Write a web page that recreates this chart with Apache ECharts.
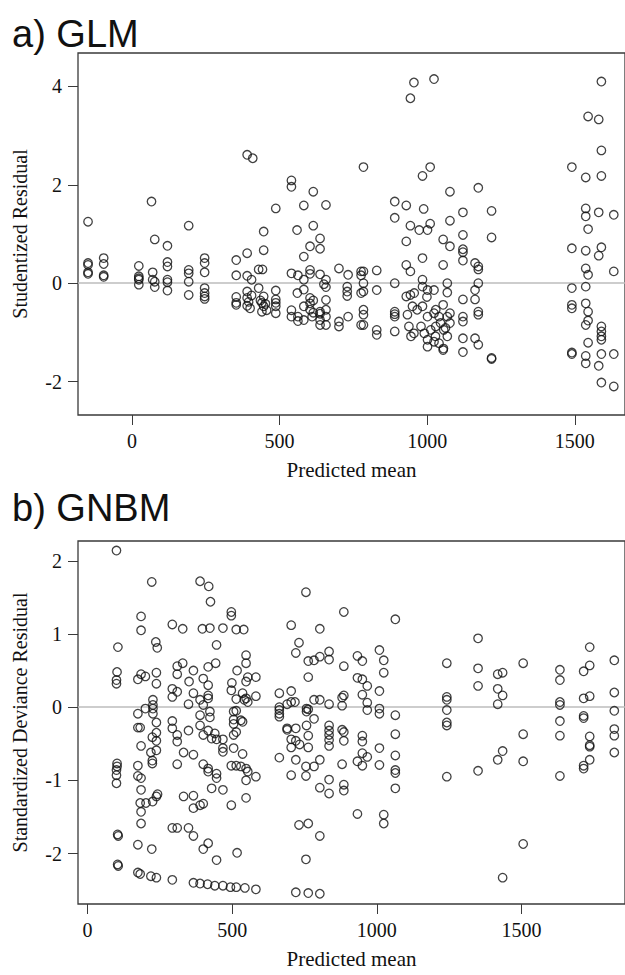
<!DOCTYPE html>
<html>
<head>
<meta charset="utf-8">
<title>Residual plots: GLM and GNBM</title>
<script src="https://cdn.jsdelivr.net/npm/echarts@6/dist/echarts.min.js"></script>
<style>
  html, body { margin: 0; padding: 0; background: #ffffff; }
  #chart { width: 625px; height: 975px; }
</style>
</head>
<body>
<div id="chart"></div>
<script>
// Panel a) GLM: predicted mean vs studentized residual
const glmMean = [
  -149, -149, -149, -149, -149,
  -96, -96, -96, -96,
  23, 23, 23, 23, 23,
  66, 77, 70, 70, 77, 77,
  120, 120, 120, 120, 120, 120,
  192, 192, 192, 192, 192,
  246, 246, 246, 246, 246, 246, 246,
  353, 353, 353, 353, 353,
  390, 409, 390, 390, 405, 390, 405, 390, 395, 390, 400,
  446, 446, 429, 442, 429, 446, 435, 440, 452, 446, 456, 440,
  487, 487, 487, 487, 487, 487,
  540, 540, 540, 540, 540,
  559, 562, 560, 562, 562,
  582, 582, 582, 582, 582, 582,
  603, 603, 603, 603, 603, 603, 610,
  614, 614, 614, 614,
  637, 637, 637, 637, 637, 637, 637,
  657, 657, 650, 657, 657, 657, 657, 657,
  701, 701, 701,
  732, 729, 729, 729, 732,
  784, 776, 784, 776, 784, 784, 776, 784, 784, 776, 784,
  829, 829, 829, 829,
  890, 890, 890, 890, 890, 890, 890,
  929, 929, 929, 943, 929, 943, 956, 950, 966, 933, 938, 955, 945,
  943, 955, 943,
  984, 1010, 988, 973, 1001, 1010, 984, 984, 984, 1001, 1023, 999, 984, 1001, 1023, 1040,
  979, 990, 1001, 1012, 1028, 1040, 1001, 1023, 1055, 1068, 1062, 1077,
  1023,
  1077, 1077, 1054, 1077, 1054, 1068, 1068, 1054, 1029, 1068, 1077, 1045, 1029, 1056, 1054,
  1121, 1121, 1121, 1121, 1121, 1121, 1121, 1121, 1121, 1121,
  1173, 1162, 1173, 1173, 1173, 1162, 1162, 1173, 1173, 1162, 1173,
  1218, 1218, 1218, 1218,
  1490, 1490, 1490, 1490, 1490, 1490, 1490,
  1537, 1545, 1537, 1537, 1545, 1537, 1537, 1545, 1537, 1537, 1545, 1545, 1537, 1545, 1537, 1537,
  1590, 1581, 1590, 1590, 1581, 1590, 1581, 1590, 1590, 1590, 1590, 1590, 1581, 1590,
  1632, 1632, 1632, 1632
];
const glmResid = [
  1.25, 0.41, 0.37, 0.22, 0.19,
  0.51, 0.39, 0.16, 0.13,
  0.35, 0.14, 0.10, 0.07, -0.03,
  1.66, 0.89, 0.22, 0.07, 0.03, -0.08,
  0.76, 0.43, 0.34, 0.07, 0.02, -0.15,
  1.17, 0.27, 0.20, 0.03, -0.24,
  0.51, 0.41, 0.22, -0.10, -0.20, -0.27, -0.32,
  0.47, 0.16, -0.28, -0.40, -0.44,
  2.61, 2.54, 0.61, 0.15, 0.07, -0.17, -0.25, -0.30, -0.38, -0.46, -0.51,
  1.05, 0.67, 0.28, 0.28, -0.10, -0.27, -0.35, -0.40, -0.42, -0.47, -0.55, -0.58,
  1.52, -0.15, -0.33, -0.40, -0.47, -0.61,
  2.09, 1.96, 0.20, -0.55, -0.68,
  1.08, 0.16, -0.20, -0.68, -0.77,
  1.58, 0.54, 0.07, -0.13, -0.47, -0.75,
  0.75, 0.27, 0.19, -0.30, -0.41, -0.54, -0.68,
  1.86, 1.17, -0.35, -0.60,
  0.91, 0.70, 0.18, -0.58, -0.62, -0.75, -0.85,
  1.59, 0.07, -0.02, -0.08, -0.34, -0.54, -0.68, -0.85,
  0.30, -0.78, -0.88,
  0.17, -0.07, -0.17, -0.26, -0.68,
  2.36, 0.24, 0.24, 0.16, 0.00, -0.17, -0.20, -0.54, -0.64, -0.85, -0.85,
  0.26, -0.14, -0.95, -1.05,
  1.66, 1.33, 0.00, -0.58, -0.63, -0.68, -0.98,
  1.58, 0.85, 0.37, 0.24, -0.27, -0.24, -0.20, -0.47, -0.54, -0.64, -0.88, -1.02, -1.08,
  3.76, 4.08, 1.17,
  2.18, 2.36, 1.51, 1.08, 1.08, 1.21, 0.51, 0.07, -0.07, -0.14, -0.14, -0.28, -0.47, -0.68, -0.61, -0.68,
  -0.88, -1.02, -1.15, -0.95, -1.08, -1.22, -1.29, -1.19, -1.33, -1.08, -0.91, -0.81,
  4.15,
  1.86, 1.27, 0.89, 0.75, 0.37, 0.00, -0.19, -0.44, -0.54, -0.68, -0.61, -0.81, -0.88, -0.95, -1.36,
  1.44, 0.98, 0.69, 0.63, 0.46, -0.33, -0.68, -0.78, -1.12, -1.40,
  1.94, 0.41, 0.34, 0.28, 0.00, -0.14, -0.33, -0.58, -0.64, -1.12, -1.25,
  1.47, 0.93, -1.52, -1.54,
  2.36, 0.71, -0.10, -0.44, -0.51, -1.41, -1.44,
  2.15, 3.39, 1.52, 1.36, 1.10, 0.66, 0.30, 0.17, -0.07, -0.41, -0.58, -0.76, -0.85, -1.21, -1.48, -1.63,
  4.10, 3.33, 2.70, 2.18, 1.44, 0.73, 0.56, -0.88, -0.98, -1.08, -1.15, -1.44, -1.68, -2.02,
  1.39, 0.24, -1.44, -2.10
];

// Panel b) GNBM: predicted mean vs standardized deviance residual
const gnbmMean = [
  100, 105, 102, 100, 100, 102, 102, 100, 100, 100, 104, 106, 104, 106,
  185, 185, 174, 185, 174, 174, 182, 185, 174, 174, 185, 185, 182, 185, 185, 174, 174, 182,
  222, 236, 241, 200, 238, 238, 226, 226, 226, 200, 226, 238, 238, 224, 238, 238, 219, 224, 224,
  202, 225, 238, 242, 222, 219, 238,
  293, 329, 329, 310, 310, 293, 310, 293, 293, 293, 310, 310, 310, 293, 310, 293,
  366, 351, 366, 349, 349, 332, 366, 332, 366, 366, 349, 366, 366,
  389, 419, 425, 397, 423, 446, 400, 417, 417, 443, 389, 417, 417, 400, 423, 423, 389, 389,
  400, 417, 429, 440, 446, 400, 417, 417, 429, 389, 400, 417, 400, 446, 389, 415, 440,
  468, 468, 468, 468, 446, 446, 468, 468,
  497, 497, 514, 540, 548, 548, 517, 554, 582, 548, 499, 497, 536, 514, 542, 554, 548, 582,
  505, 514, 505, 505, 536, 530, 514, 505, 505, 536, 497, 514, 530, 548, 554, 582, 548, 548,
  497, 517, 494, 514, 544, 582,
  755, 886, 1064, 704, 803, 731, 720, 763, 783, 803, 835, 835, 763, 886, 933, 950, 933, 950, 967,
  1009, 1024, 1024,
  663, 704, 690, 704, 717, 663, 663, 663, 663,
  757, 757, 763, 783, 803, 783, 835, 886, 880, 880,
  950, 967, 967, 1009, 1009, 1009, 1064,
  690, 690, 720, 704, 720, 733, 704, 757, 763, 763,
  835, 835, 835, 835, 835,
  880, 886, 886, 950, 950, 933, 950, 967, 950,
  1009, 1009, 1064, 1064, 1064, 1064, 1064,
  663, 720, 704, 755, 755, 783, 803, 803, 835, 835,
  880, 886, 886, 933, 1024, 1024, 731, 763, 803, 755, 720, 763, 803,
  1242, 1242, 1242, 1242, 1242, 1242, 1242,
  1350, 1350, 1350, 1350,
  1418, 1435, 1418, 1435, 1418, 1435, 1418, 1435,
  1506, 1506, 1506, 1506,
  1633, 1633, 1633, 1633, 1633, 1633, 1633,
  1715, 1736, 1736, 1715, 1736, 1715, 1715, 1736, 1736, 1736, 1736, 1715, 1715,
  1821, 1821, 1821, 1821, 1821, 1821
];
const gnbmResid = [
  2.14, 0.82, 0.48, 0.37, 0.32, -0.77, -0.81, -0.86, -0.93, -1.04, -1.74, -1.76, -2.15, -2.17,
  1.24, 1.05, 0.38, 0.45, -0.09, -0.28, -0.28, -0.53, -0.80, -0.94, -0.97, -1.13, -1.31, -1.43, -1.59, -1.88, -2.26, -2.28,
  1.71, 0.89, 0.81, 0.42, 0.47, 0.32, 0.10, 0.03, -0.02, -0.02, -0.09, -0.21, -0.35, -0.41, -0.46, -0.59, -0.62, -0.73, -0.77,
  -1.31, -1.29, -1.22, -1.19, -1.94, -2.31, -2.33,
  1.13, 1.07, 0.60, 0.56, 0.45, 0.25, 0.21, 0.14, -0.19, -0.29, -0.38, -0.47, -0.78, -1.65, -1.65, -2.36,
  0.50, 0.35, 0.19, 0.04, -0.32, -0.62, -0.65, -1.22, -1.21, -1.38, -1.65, -1.76, -2.40,
  1.72, 1.65, 1.44, 1.07, 1.08, 0.85, 0.39, 0.30, 0.55, 0.60, 0.10, 0.16, 0.12, 0.03, -0.06, -0.14, -0.11, -0.25,
  -0.38, -0.32, -0.43, -0.36, -0.44, -0.78, -0.84, -0.88, -1.11, -1.34, -1.32, -1.86, -1.94, -2.09, -2.41, -2.42, -2.44,
  1.08, -0.44, -0.56, -0.61, -0.91, -0.97, -1.13, -2.44,
  1.30, 1.25, 1.06, 1.06, 0.71, 0.60, 0.50, 0.41, 0.41, 0.35, 0.33, 0.23, 0.19, 0.11, 0.10, 0.07, 0.12, 0.15,
  -0.06, -0.05, -0.17, -0.23, -0.20, -0.18, -0.34, -0.38, -0.56, -0.64, -0.80, -0.80, -0.81, -0.84, -0.88, -0.95, -1.00, -1.24,
  -1.34, -1.99, -2.46, -2.46, -2.47, -2.49,
  1.57, 1.30, 1.20, 1.12, 1.07, 0.88, 0.74, 0.63, 0.64, 0.69, 0.76, 0.65, 0.41, 0.56, 0.70, 0.63, 0.40, 0.38, 0.29,
  0.78, 0.64, 0.47,
  0.19, 0.22, 0.04, 0.07, 0.07, 0.00, -0.04, -0.09, -0.13,
  -0.02, -0.06, -0.03, 0.10, 0.10, -0.16, 0.04, 0.16, 0.13, 0.02,
  0.17, 0.06, -0.04, 0.22, -0.02, -0.09, -0.11,
  -0.29, -0.31, -0.29, -0.44, -0.46, -0.51, -0.55, -0.25, -0.39, -0.55,
  -0.25, -0.32, -0.38, -0.45, -0.53,
  -0.31, -0.34, -0.46, -0.39, -0.47, -0.74, -0.63, -0.68, -0.80,
  -0.56, -0.79, -0.37, -0.66, -0.86, -0.90, -1.11,
  -0.69, -0.72, -0.93, -0.81, -0.94, -0.81, -0.72, -1.10, -0.99, -1.18,
  -0.78, -1.06, -1.14, -1.46, -1.47, -1.59, -1.61, -1.59, -1.76, -2.08, -2.53, -2.54, -2.55,
  0.60, 0.14, 0.10, -0.04, -0.21, -0.25, -0.95,
  0.94, 0.53, 0.29, -0.87,
  0.45, 0.47, 0.25, 0.16, 0.04, -0.60, -0.72, -2.33,
  0.60, -0.37, -0.74, -1.87,
  0.51, 0.37, 0.07, 0.03, -0.19, -0.39, -0.94,
  0.49, 0.57, 0.82, 0.12, 0.15, -0.12, -0.15, -0.40, -0.52, -0.54, -0.72, -0.80, -0.84,
  0.64, 0.20, -0.05, -0.30, -0.39, -0.62
];

// Axis ticks and text
const meanTicks = [0, 500, 1000, 1500];
const glmResidTicks = [-2, 0, 2, 4];
const gnbmResidTicks = [-2, -1, 0, 1, 2];
const panelTitles = ['a) GLM', 'b) GNBM'];
const meanLabel = 'Predicted mean';
const residLabels = ['Studentized Residual', 'Standardized Deviance Residual'];

const serif = '"Liberation Serif", "DejaVu Serif", serif';
const sans = '"Liberation Sans", "DejaVu Sans", sans-serif';
const ink = '#111111';
const frame = '#3a3a3a';

function pairs(xs, ys) {
  return xs.map((x, i) => [x, ys[i]]);
}

// plain numbers, no thousands separator
const plain = (v) => String(v);

function meanAxis(gridIndex, min, max) {
  return {
    type: 'value', gridIndex, min, max,
    name: meanLabel, nameLocation: 'middle', nameGap: 44,
    nameTextStyle: { fontFamily: serif, fontSize: 21, color: ink },
    axisLine: { show: false, onZero: false },
    splitLine: { show: false },
    axisTick: { show: true, length: 10, customValues: meanTicks, lineStyle: { color: frame, width: 1 } },
    axisLabel: { customValues: meanTicks, formatter: plain, margin: 16, fontFamily: serif, fontSize: 20, color: ink }
  };
}

function residAxis(gridIndex, min, max, ticks, label) {
  return {
    type: 'value', gridIndex, min, max,
    name: label, nameLocation: 'middle', nameGap: 48,
    nameTextStyle: { fontFamily: serif, fontSize: 20, color: ink },
    axisLine: { show: false, onZero: false },
    splitLine: { show: false },
    axisTick: { show: true, length: 10, customValues: ticks, lineStyle: { color: frame, width: 1 } },
    axisLabel: { customValues: ticks, formatter: plain, margin: 16, fontFamily: serif, fontSize: 20, color: ink }
  };
}

function residSeries(index, data) {
  return {
    type: 'scatter', xAxisIndex: index, yAxisIndex: index,
    data, symbol: 'circle', symbolSize: 8.5,
    itemStyle: { color: 'rgba(0,0,0,0)', borderColor: ink, borderWidth: 1.3 },
    silent: true,
    markLine: {
      silent: true, symbol: 'none', label: { show: false }, z: 1,
      lineStyle: { color: '#bdbdbd', width: 1.5, type: 'solid' },
      data: [{ yAxis: 0 }]
    }
  };
}

const chart = echarts.init(document.getElementById('chart'), null, { renderer: 'svg' });
chart.setOption({
  animation: false,
  backgroundColor: '#ffffff',
  title: [
    { text: panelTitles[0], left: 12, top: 15, padding: 0,
      textStyle: { fontFamily: sans, fontSize: 38, fontWeight: 'normal', color: ink } },
    { text: panelTitles[1], left: 12, top: 489, padding: 0,
      textStyle: { fontFamily: sans, fontSize: 38, fontWeight: 'normal', color: ink } }
  ],
  grid: [
    { left: 78, top: 53, width: 556, height: 362, show: true, borderColor: frame, borderWidth: 1.3, backgroundColor: 'transparent' },
    { left: 78, top: 541, width: 556, height: 363, show: true, borderColor: frame, borderWidth: 1.3, backgroundColor: 'transparent' }
  ],
  xAxis: [
    meanAxis(0, -183, 1670),
    meanAxis(1, -33, 1858)
  ],
  yAxis: [
    residAxis(0, -2.68, 4.68, glmResidTicks, residLabels[0]),
    residAxis(1, -2.69, 2.27, gnbmResidTicks, residLabels[1])
  ],
  series: [
    residSeries(0, pairs(glmMean, glmResid)),
    residSeries(1, pairs(gnbmMean, gnbmResid))
  ]
});
</script>
</body>
</html>
